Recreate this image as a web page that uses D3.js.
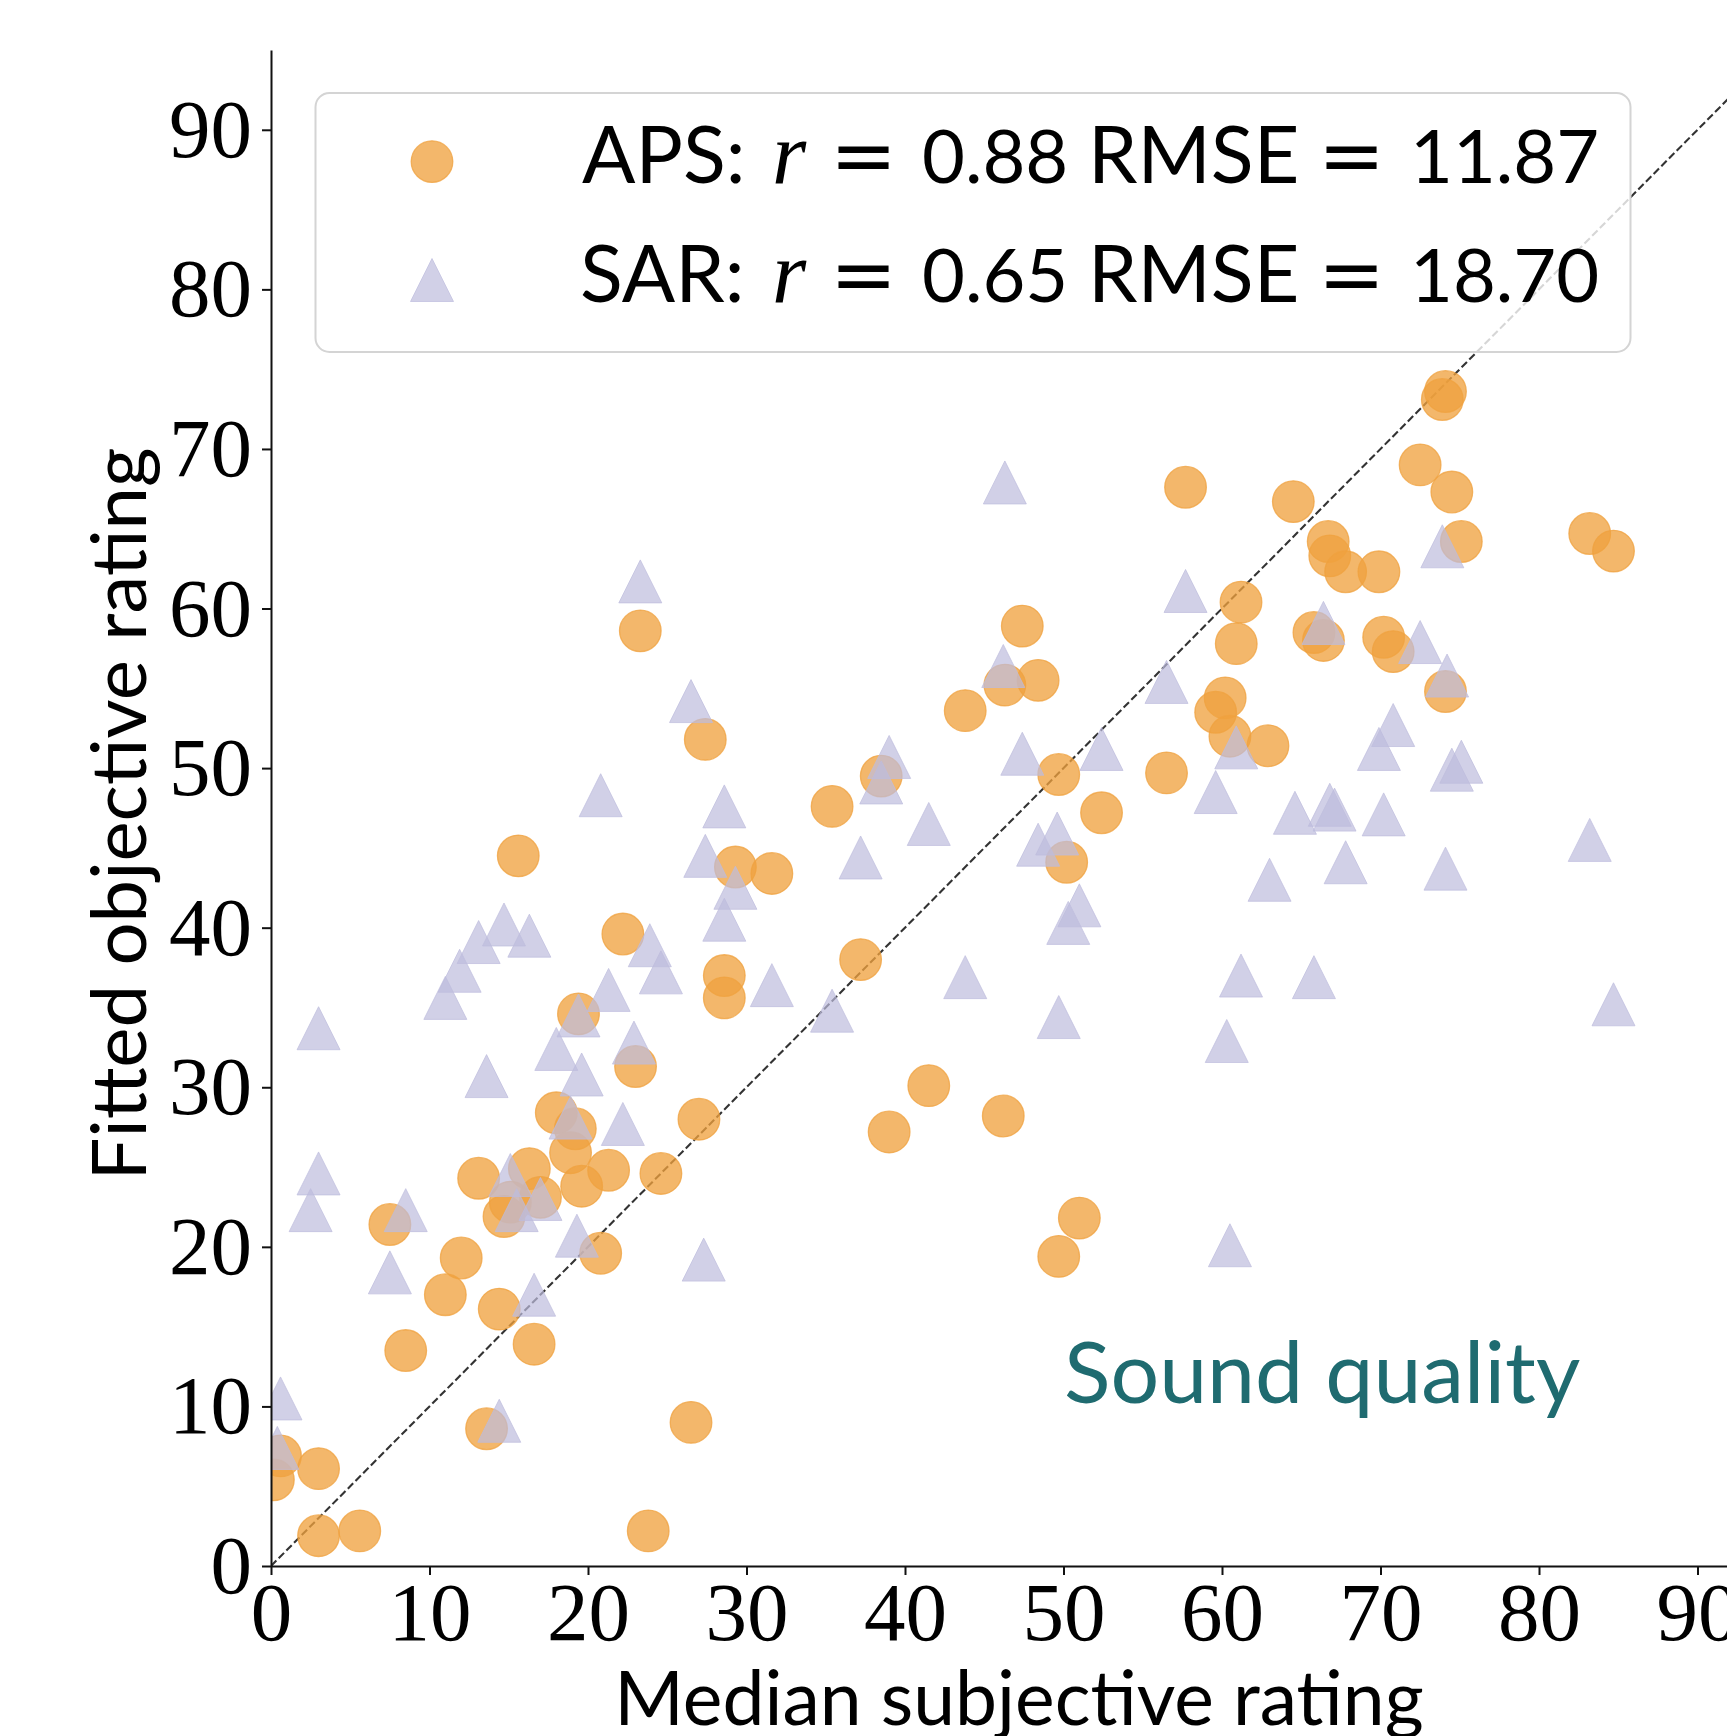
<!DOCTYPE html>
<html>
<head>
<meta charset="utf-8">
<script src="https://cdn.jsdelivr.net/npm/d3@7"></script>
<style>
  body { margin: 0; background: #fff; }
  svg { display: block; }
</style>
</head>
<body>
<div id="wrapper"></div>
<script>
// APS points (median subjective, fitted objective)
const apsMedian = [74.1, 73.9, 57.7, 72.5, 74.5, 64.5, 75.1, 66.7, 66.8, 67.8, 69.9, 83.2, 84.7,
  61.2, 60.9, 65.8, 66.4, 70.2, 70.8, 74.1, 60.2, 59.6, 60.5, 62.9, 47.4, 46.3, 48.4, 43.8,
  49.7, 56.5, 52.4, 38.5, 35.4, 27.4, 23.3, 15.6, 29.3, 31.6, 50.2, 22.2, 28.6, 28.6, 37.2,
  19.4, 23.0, 27.0, 41.5, 39.0, 46.2, 51.0, 49.7, 18.0, 19.2, 18.9, 16.3, 13.1, 21.3, 19.6,
  24.6, 17.0, 14.7, 15.1, 7.5, 12.0, 11.0, 20.8, 14.4, 16.6, 8.5, 13.6, 26.5, 0.6, 0.15,
  3.0, 3.0, 5.6, 23.8]
const apsFitted = [73.6, 73.1, 67.6, 69.0, 67.3, 66.7, 64.2, 64.2, 63.3, 62.3, 62.3, 64.7, 63.6,
  60.4, 57.8, 58.5, 58.0, 58.2, 57.3, 54.8, 54.4, 53.5, 52.0, 51.4, 58.9, 55.2, 55.5, 53.6,
  49.6, 49.7, 47.2, 49.5, 47.6, 51.8, 58.6, 44.5, 43.8, 43.4, 44.1, 39.6, 37.0, 35.6, 38.0,
  34.6, 31.3, 28.0, 30.1, 27.2, 28.2, 21.8, 19.4, 28.4, 27.4, 25.9, 24.9, 24.3, 24.8, 23.8,
  24.6, 23.1, 21.9, 22.8, 21.4, 19.3, 17.0, 19.6, 16.1, 13.9, 13.5, 8.6, 9.0, 6.9, 5.4,
  6.1, 1.9, 2.2, 2.2]

// SAR points
const sarMedian = [23.3, 26.5, 20.8, 28.6, 27.4, 46.3, 57.7, 46.2, 56.5, 39.0, 38.5, 47.4, 52.4,
  41.5, 59.6, 37.2, 48.4, 49.6, 73.9, 66.4, 72.5, 74.2, 60.9, 70.8, 69.9, 75.1, 74.5, 64.6,
  66.8, 67.1, 70.2, 83.2, 63.0, 67.8, 74.1, 61.2, 65.8, 60.3, 84.7, 60.5, 29.3, 28.6, 51.0,
  50.3, 31.6, 43.8, 35.4, 49.7, 27.3, 14.7, 16.3, 13.1, 11.9, 11.0, 3.0, 23.9, 24.6, 21.3,
  19.4, 22.9, 18.0, 13.6, 19.6, 22.2, 18.9, 3.0, 2.5, 8.5, 15.1, 15.5, 17.0, 7.5, 19.3,
  16.6, 0.6, 0.4, 14.4]
const sarFitted = [61.7, 54.2, 48.3, 47.6, 44.5, 67.9, 61.1, 56.4, 55.4, 50.7, 49.1, 50.9, 51.2,
  46.5, 48.5, 44.4, 45.2, 45.9, 63.9, 59.1, 57.9, 55.8, 51.3, 52.7, 51.2, 50.4, 49.9, 47.2,
  47.7, 47.4, 47.1, 45.5, 43.0, 44.1, 43.7, 37.0, 36.9, 32.9, 35.2, 20.1, 42.5, 40.5, 41.4,
  40.3, 36.4, 36.9, 34.8, 34.4, 19.2, 40.2, 39.5, 39.1, 37.3, 35.6, 33.7, 38.9, 37.2, 36.1,
  34.5, 32.8, 32.4, 30.7, 30.8, 27.7, 28.1, 24.6, 22.3, 22.3, 24.5, 22.3, 23.0, 18.4, 20.7,
  17.0, 10.5, 7.4, 9.1]

const tickValues = [0, 10, 20, 30, 40, 50, 60, 70, 80, 90]
const seriesNames = ["APS:", "SAR:"]
const seriesR = ["0.88", "0.65"]
const seriesRmse = ["11.87", "18.70"]

function drawChart() {

  const apsData = apsMedian.map((d, i) => ({ x: d, y: apsFitted[i] }))
  const sarData = sarMedian.map((d, i) => ({ x: d, y: sarFitted[i] }))

  const orange = "#EFA13F"
  const lavender = "#BDBCDD"
  const serif = "'Liberation Serif', 'Times New Roman', serif"
  const sans = "Lato, 'Open Sans', sans-serif"

  let dimensions = {
    width: 1727,
    height: 1736,
    margin: { top: 50, left: 271, bottom: 170 },
  }
  dimensions.boundedHeight = dimensions.height
    - dimensions.margin.top
    - dimensions.margin.bottom
  dimensions.boundedWidth = 95 * 15.85

  const wrapper = d3.select("#wrapper")
    .append("svg")
    .attr("width", dimensions.width)
    .attr("height", dimensions.height)

  const bounds = wrapper.append("g")
    .attr("transform", `translate(${dimensions.margin.left},${dimensions.margin.top})`)

  bounds.append("clipPath")
    .attr("id", "plot-clip")
    .append("rect")
    .attr("width", dimensions.boundedWidth)
    .attr("height", dimensions.boundedHeight)

  const xScale = d3.scaleLinear()
    .domain([0, 95])
    .range([0, dimensions.boundedWidth])

  const yScale = d3.scaleLinear()
    .domain([0, 95])
    .range([dimensions.boundedHeight, 0])

  // identity line
  const plot = bounds.append("g").attr("clip-path", "url(#plot-clip)")

  plot.append("path")
    .datum([[0, 0], [95, 95]])
    .attr("d", d3.line().x(d => xScale(d[0])).y(d => yScale(d[1])))
    .attr("fill", "none")
    .attr("stroke", "#333")
    .attr("stroke-width", 2.1)
    .attr("stroke-dasharray", "7.6 3.3")

  // markers
  const triPath = s => `M0,${-s}L${s},${s}L${-s},${s}Z`

  plot.selectAll("circle.aps")
    .data(apsData)
    .join("circle")
    .attr("class", "aps")
    .attr("cx", d => xScale(d.x))
    .attr("cy", d => yScale(d.y))
    .attr("r", 20.8)
    .attr("fill", orange)
    .attr("fill-opacity", 0.77)
    .attr("stroke", orange)
    .attr("stroke-opacity", 0.77)
    .attr("stroke-width", 1.3)

  plot.selectAll("path.sar")
    .data(sarData)
    .join("path")
    .attr("class", "sar")
    .attr("d", triPath(21.5))
    .attr("transform", d => `translate(${xScale(d.x)},${yScale(d.y)})`)
    .attr("fill", lavender)
    .attr("fill-opacity", 0.7)
    .attr("stroke", lavender)
    .attr("stroke-opacity", 0.7)
    .attr("stroke-width", 1)

  // axes
  const xAxisGenerator = d3.axisBottom(xScale)
    .tickValues(tickValues)
    .tickSize(9)
    .tickSizeOuter(0)
    .tickPadding(6)

  const yAxisGenerator = d3.axisLeft(yScale)
    .tickValues(tickValues)
    .tickSize(9)
    .tickSizeOuter(0)
    .tickPadding(10)

  const xAxis = bounds.append("g")
    .attr("transform", `translate(0,${dimensions.boundedHeight})`)
    .call(xAxisGenerator)

  const yAxis = bounds.append("g")
    .call(yAxisGenerator)

  ;[xAxis, yAxis].forEach(axis => {
    axis.select(".domain").attr("stroke", "#111").attr("stroke-width", 2)
    axis.selectAll(".tick line").attr("stroke", "#111").attr("stroke-width", 2)
    axis.selectAll(".tick text")
      .attr("fill", "#000")
      .style("font-family", serif)
      .style("font-size", "83px")
  })

  // axis labels
  wrapper.append("text")
    .attr("x", 1019)
    .attr("y", 1725)
    .attr("text-anchor", "middle")
    .style("font-family", sans)
    .style("font-size", "75px")
    .text("Median subjective rating")

  wrapper.append("text")
    .attr("transform", "translate(146,814) rotate(-90)")
    .attr("text-anchor", "middle")
    .style("font-family", sans)
    .style("font-size", "76px")
    .text("Fitted objective rating")

  // annotation
  wrapper.append("text")
    .attr("x", 1064)
    .attr("y", 1403)
    .attr("fill", "#1f6b70")
    .style("font-family", sans)
    .style("font-size", "86px")
    .text("Sound quality")

  // legend
  const legend = wrapper.append("g")

  legend.append("rect")
    .attr("x", 315.5)
    .attr("y", 93)
    .attr("width", 1315)
    .attr("height", 259)
    .attr("rx", 14)
    .attr("fill", "#fff")
    .attr("fill-opacity", 0.8)
    .attr("stroke", "#d4d4d4")
    .attr("stroke-width", 2)

  legend.append("circle")
    .attr("cx", 432)
    .attr("cy", 161.6)
    .attr("r", 20.8)
    .attr("fill", orange)
    .attr("fill-opacity", 0.77)
    .attr("stroke", orange)
    .attr("stroke-opacity", 0.77)
    .attr("stroke-width", 1.3)

  legend.append("path")
    .attr("d", triPath(21.5))
    .attr("transform", "translate(432,280)")
    .attr("fill", lavender)
    .attr("fill-opacity", 0.7)
    .attr("stroke", lavender)
    .attr("stroke-opacity", 0.7)
    .attr("stroke-width", 1)

  const rowBaselines = [183.3, 301.7]
  const rowStarts = [582, 580]

  seriesNames.forEach((name, i) => {
    const y = rowBaselines[i]
    const pieces = [
      { t: name, x: rowStarts[i], font: sans, size: 79, style: "normal" },
      { t: "r", x: 772, font: serif, size: 88, style: "italic" },
      { t: "=", x: 830, font: "'DejaVu Sans', sans-serif", size: 80, style: "normal" },
      { t: seriesR[i], x: 922, font: sans, size: 74, style: "normal" },
      { t: "RMSE", x: 1088, font: sans, size: 79, style: "normal" },
      { t: "=", x: 1318, font: "'DejaVu Sans', sans-serif", size: 80, style: "normal" },
      { t: seriesRmse[i], x: 1410, font: sans, size: 74, style: "normal" },
    ]
    legend.selectAll(null)
      .data(pieces)
      .join("text")
      .attr("x", d => d.x)
      .attr("y", y)
      .style("font-family", d => d.font)
      .style("font-size", d => d.size + "px")
      .style("font-style", d => d.style)
      .text(d => d.t)
  })
}
drawChart()
</script>
</body>
</html>
